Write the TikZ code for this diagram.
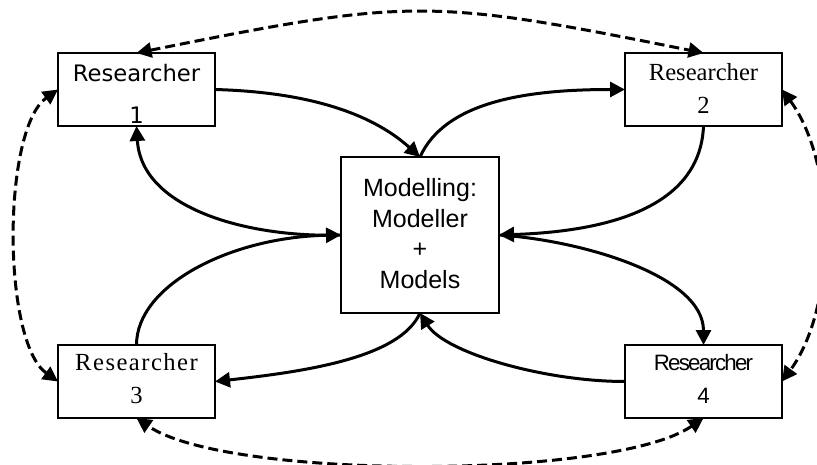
\documentclass[tikz,border=0pt]{standalone}
\usepackage{fontspec}
\usetikzlibrary{arrows.meta}
\newfontfamily\fRone{DejaVu Sans}
\newfontfamily\fRtwo{Liberation Serif}
\newfontfamily\fRthree[LetterSpace=6]{Liberation Serif}
\newfontfamily\fRfour[LetterSpace=-8]{Liberation Sans}
\newfontfamily\fMid{Liberation Sans}
\newcommand\boxtext[6]{\parbox[c][#2][t]{#1}{#3\centering\baselineskip=#5\relax\lineskiplimit=-50pt\rule{0pt}{#4}#6\par}}
\begin{document}
\begin{tikzpicture}[x=1pt,y=-1pt,
  box/.style={draw,line width=1.2pt,inner sep=0pt,outer sep=0pt,fill=white},
  flow/.style={line width=3pt,-{Triangle[length=15pt,width=15pt]}},
  link/.style={line width=3pt,dash pattern=on 10pt off 5pt,{Triangle[length=15pt,width=15pt]}-{Triangle[length=15pt,width=15pt]}}]
\useasboundingbox (0,0) rectangle (817,465);
\clip (0,0) rectangle (817,465);
\fill[white] (0,0) rectangle (817,465);
\node[box] (r1) at (136.5,89.5) {\boxtext{157pt}{73pt}{\fRone\fontsize{22.7}{27}\selectfont}{28.7pt}{41.6pt}{Researcher\par 1}};
\node[box] (r2) at (703.5,89.5) {\boxtext{157pt}{73pt}{\fRtwo\fontsize{24.6}{29}\selectfont}{28pt}{32.3pt}{Researcher\par 2}};
\node[box] (r3) at (136.5,381.5) {\boxtext{157pt}{73pt}{\fRthree\fontsize{24.6}{29}\selectfont}{25pt}{33.3pt}{Researcher\par 3}};
\node[box] (r4) at (703.5,381.5) {\boxtext{157pt}{73pt}{\fRfour\fontsize{22.3}{27}\selectfont}{25pt}{33pt}{Researcher\par 4}};
\node[box] (c) at (420,235) {\boxtext{158pt}{156pt}{\fMid\fontsize{25}{30}\selectfont}{39.7pt}{30.5pt}{Modelling:\par Modeller\par +\par Models}};
\draw[flow] (r1.east) .. controls +(90,2.5) and +(-50,-45) .. (c.north);
\draw[flow] (c.north) .. controls +(25,-55) and +(-100,0) .. (r2.west);
\draw[flow] (r2.south) .. controls +(-3.5,89) and +(91,-3) .. (c.east);
\draw[flow] (c.east) .. controls +(80,5) and +(0,-70) .. (r4.north);
\draw[flow] (r4.west) .. controls +(-80,0) and +(25,40) .. (c.south);
\draw[flow] (c.south) .. controls +(-20,45) and +(90,-10) .. (r3.east);
\draw[flow] (r3.north) .. controls +(0,-60) and +(-110,2) .. (c.west);
\draw[flow] (c.west) .. controls +(-90,3) and +(5,84) .. (r1.south);
\draw[link] (r1.north) .. controls +(274,-55) and +(-274,-55) .. (r2.north);
\draw[link] (r2.east) .. controls +(55,75) and +(55,-75) .. (r4.east);
\draw[link] (r4.south) .. controls +(-90,62) and +(90,62) .. (r3.south);
\draw[link] (r3.west) .. controls +(-56,-40) and +(-56,40) .. (r1.west);
\end{tikzpicture}
\end{document}
